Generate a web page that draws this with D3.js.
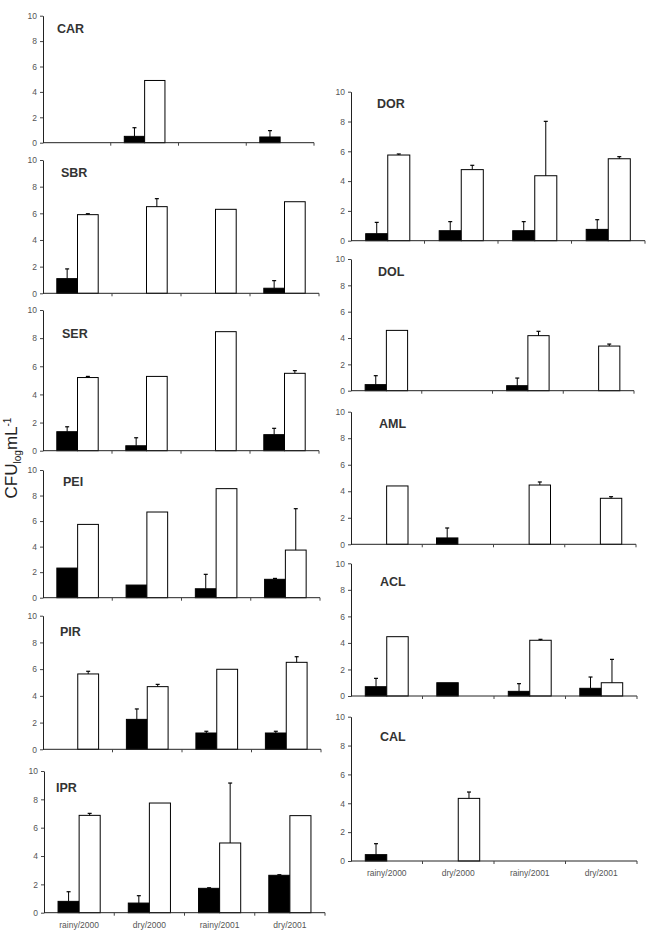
<!DOCTYPE html>
<html>
<head>
<meta charset="utf-8">
<script src="https://d3js.org/d3.v7.min.js"></script>
<style>
  body { margin: 0; background: #fff; }
  svg { display: block; font-family: "Liberation Sans", Arial, sans-serif; }
</style>
</head>
<body>
<svg id="chart" width="646" height="938"></svg>
<script>
// categories and ticks
const seasons = ["rainy/2000", "dry/2000", "rainy/2001", "dry/2001"];
const yTicks = [0, 2, 4, 6, 8, 10];
const panelNames = ["CAR", "SBR", "SER", "PEI", "PIR", "IPR", "DOR", "DOL", "AML", "ACL", "CAL"];

// black bars (one row per panel, null = no bar)
const darkMeans = [
    [null, 0.5, null, 0.45],   // CAR
    [1.1, null, null, 0.38],   // SBR
    [1.35, 0.35, null, 1.14],  // SER
    [2.32, 0.99, 0.7, 1.44],   // PEI
    [null, 2.24, 1.22, 1.22],  // PIR
    [0.8, 0.68, 1.72, 2.64],   // IPR
    [0.47, 0.67, 0.67, 0.76],  // DOR
    [0.46, null, 0.38, null],  // DOL
    [null, 0.48, null, null],  // AML
    [0.7, 1.0, 0.35, 0.58],    // ACL
    [0.44, null, null, null]   // CAL
];
const darkErr = [
    [null, 0.68, null, 0.5],
    [0.73, null, null, 0.57],
    [0.35, 0.57, null, 0.45],
    [null, null, 1.13, 0.07],
    [null, 0.78, 0.13, 0.13],
    [0.68, 0.52, 0.04, 0.04],
    [0.76, 0.61, 0.61, 0.65],
    [0.68, null, 0.58, null],
    [null, 0.75, null, null],
    [0.63, null, 0.58, 0.85],
    [0.76, null, null, null]
];

// white bars
const lightMeans = [
    [null, 4.9, null, null],
    [5.9, 6.5, 6.3, 6.87],
    [5.2, 5.28, 8.46, 5.5],
    [5.74, 6.71, 8.54, 3.73],
    [5.64, 4.69, 5.99, 6.51],
    [6.87, 7.74, 4.92, 6.85],
    [5.75, 4.77, 4.36, 5.5],
    [4.58, null, 4.18, 3.39],
    [4.4, null, 4.47, 3.47],
    [4.47, null, 4.2, 1.0],
    [null, 4.34, null, null]
];
const lightErr = [
    [null, null, null, null],
    [0.07, 0.6, null, null],
    [0.08, null, null, 0.19],
    [null, null, null, 3.24],
    [0.2, 0.17, null, 0.42],
    [0.14, null, 4.23, null],
    [0.07, 0.29, 3.65, 0.14],
    [null, null, 0.33, 0.15],
    [null, null, 0.23, 0.12],
    [null, null, 0.07, 1.76],
    [null, 0.44, null, null]
];

// where each small panel sits on the page
const frames = [
    { x0: 43, x1: 314, top: 15.7, bottom: 142.7, tx: 57, ty: 17 },
    { x0: 43, x1: 319, top: 160, bottom: 293.3, tx: 61, ty: 17 },
    { x0: 43, x1: 319, top: 310, bottom: 450.7, tx: 62, ty: 28 },
    { x0: 43, x1: 320, top: 470, bottom: 597.7, tx: 63, ty: 16 },
    { x0: 43, x1: 321, top: 615.7, bottom: 749.3, tx: 60, ty: 20 },
    { x0: 44, x1: 325, top: 771, bottom: 912.7, tx: 56, ty: 21, labels: true },
    { x0: 351, x1: 645, top: 91.7, bottom: 240.7, tx: 377, ty: 16 },
    { x0: 351, x1: 634, top: 259, bottom: 390.7, tx: 378, ty: 17 },
    { x0: 351, x1: 636, top: 411.7, bottom: 544.3, tx: 379, ty: 16 },
    { x0: 351, x1: 637, top: 563.3, bottom: 696, tx: 380, ty: 23 },
    { x0: 351, x1: 637, top: 716.7, bottom: 861, tx: 380, ty: 24, labels: true }
];

const svg = d3.select("#chart");

panelNames.forEach((name, p) => {
    const f = frames[p];
    const g = svg.append("g").attr("class", "panel");

    const y = d3.scaleLinear().domain([0, 10]).range([f.bottom, f.top]);
    const x = d3.scaleBand().domain(seasons).range([f.x0, f.x1]);
    const s = d3.scaleBand().domain(["dark", "light"])
        .range([x.bandwidth() * 0.2, x.bandwidth() * 0.8]);

    // y axis
    const ya = g.append("g")
        .attr("transform", `translate(${f.x0},0)`)
        .call(d3.axisLeft(y).tickValues(yTicks).tickSize(3).tickSizeOuter(0).tickPadding(3));
    ya.select(".domain").attr("stroke", "#222");
    ya.selectAll(".tick line").attr("stroke", "#444");
    ya.selectAll("text").attr("fill", "#555").style("font-size", "8.5px")
        .style("font-family", "Liberation Sans, Arial, sans-serif");

    // bars
    const series = [
        { key: "dark", means: darkMeans[p], errs: darkErr[p], fill: "#000" },
        { key: "light", means: lightMeans[p], errs: lightErr[p], fill: "#fff" }
    ];
    series.forEach(sr => {
        const rows = seasons.map((c, i) => ({ c, v: sr.means[i], e: sr.errs[i] }))
            .filter(d => d.v != null);

        g.selectAll(".bar-" + sr.key)
            .data(rows)
            .enter()
            .append("rect")
            .attr("class", "bar-" + sr.key)
            .attr("x", d => x(d.c) + s(sr.key))
            .attr("y", d => y(d.v))
            .attr("width", s.bandwidth())
            .attr("height", d => y(0) - y(d.v))
            .attr("fill", sr.fill)
            .attr("stroke", "#000")
            .attr("stroke-width", 1);

        const withErr = rows.filter(d => d.e != null);
        const cx = d => x(d.c) + s(sr.key) + s.bandwidth() / 2;
        g.selectAll(".err-" + sr.key)
            .data(withErr)
            .enter()
            .append("line")
            .attr("class", "err-" + sr.key)
            .attr("x1", cx).attr("x2", cx)
            .attr("y1", d => y(d.v)).attr("y2", d => y(d.v + d.e))
            .attr("stroke", "#000").attr("stroke-width", 1);
        g.selectAll(".cap-" + sr.key)
            .data(withErr)
            .enter()
            .append("line")
            .attr("class", "cap-" + sr.key)
            .attr("x1", d => cx(d) - 2).attr("x2", d => cx(d) + 2)
            .attr("y1", d => y(d.v + d.e)).attr("y2", d => y(d.v + d.e))
            .attr("stroke", "#000").attr("stroke-width", 1.2);
    });

    // x axis line with ticks at category boundaries
    g.append("line")
        .attr("x1", f.x0).attr("x2", f.x1)
        .attr("y1", y(0)).attr("y2", y(0))
        .attr("stroke", "#222");
    g.selectAll(".xtick")
        .data(seasons)
        .enter()
        .append("line")
        .attr("class", "xtick")
        .attr("x1", d => x(d) + x.bandwidth()).attr("x2", d => x(d) + x.bandwidth())
        .attr("y1", y(0)).attr("y2", y(0) + 3)
        .attr("stroke", "#444");

    if (f.labels) {
        g.selectAll(".xlabel")
            .data(seasons)
            .enter()
            .append("text")
            .attr("class", "xlabel")
            .attr("x", d => x(d) + x.bandwidth() / 2)
            .attr("y", y(0) + 15)
            .attr("text-anchor", "middle")
            .attr("fill", "#555")
            .style("font-size", "8.5px")
            .text(d => d);
    }

    // panel title
    g.append("text")
        .attr("x", f.tx)
        .attr("y", f.top + f.ty)
        .attr("fill", "#333")
        .style("font-size", "12.5px")
        .style("font-weight", "bold")
        .text(name);
});

// shared y label along the left edge
const yl = svg.append("text")
    .attr("transform", "translate(17,458) rotate(-90)")
    .attr("text-anchor", "middle")
    .attr("fill", "#222")
    .style("font-size", "17px");
yl.append("tspan").text("CFU");
yl.append("tspan").attr("dy", 4).style("font-size", "10px").text("log");
yl.append("tspan").attr("dy", -4).text("mL");
yl.append("tspan").attr("dy", -6).style("font-size", "10px").text("-1");
</script>
</body>
</html>
